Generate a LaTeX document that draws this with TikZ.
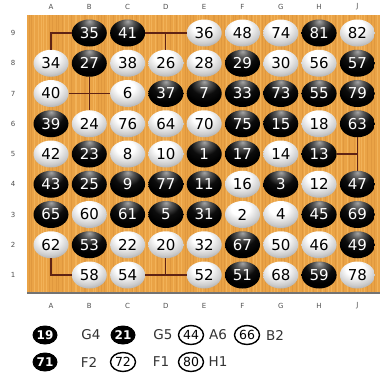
\documentclass[tikz,border=0pt]{standalone}
\usepackage{fontspec}
\setmainfont{DejaVu Sans}
\usetikzlibrary{shapes.geometric}
\definecolor{wood}{RGB}{234,163,70}
\definecolor{woodlt}{RGB}{242,178,88}
\definecolor{wooddk}{RGB}{224,152,62}
\definecolor{gline}{RGB}{95,35,20}
\definecolor{lbl}{RGB}{80,80,80}
\pgfdeclareradialshading{blackstone}{\pgfpoint{0bp}{22bp}}{%
  color(0bp)=(black!35); color(8bp)=(black!65); color(19bp)=(black!95);
  color(30bp)=(black); color(80bp)=(black)}
\pgfdeclareradialshading{whitestone}{\pgfpoint{-4bp}{14bp}}{%
  color(0bp)=(white); color(13bp)=(white); color(28bp)=(black!20);
  color(40bp)=(black!42); color(80bp)=(black!58)}
\tikzset{
  stonebase/.style={ellipse,inner sep=0pt,minimum width=35pt,minimum height=27pt,
     font=\fontsize{15}{15}\selectfont},
  stoneb/.style={stonebase,shading=blackstone,text=white},
  stonew/.style={stonebase,shading=whitestone,text=black},
  gridline/.style={draw=gline,line width=1.1pt},
  coordlbl/.style={font=\fontsize{7}{7}\selectfont,text=lbl},
  legb/.style={ellipse,inner sep=0pt,minimum width=25pt,minimum height=19pt,fill=black,text=white,
     font=\bfseries\fontsize{12}{12}\selectfont},
  legw/.style={ellipse,inner sep=0pt,minimum width=25pt,minimum height=19pt,fill=white,draw=black,line width=1.4pt,text=black,
     font=\fontsize{12.5}{12.5}\selectfont},
  legtxt/.style={font=\fontsize{13.5}{13.5}\selectfont,text=black!80},
}
\begin{document}
\begin{tikzpicture}[x=1pt,y=-1pt]
\useasboundingbox (0,0) rectangle (380,378);
\fill[white] (0,0) rectangle (380,378);
% board
\fill[wood] (27,15) rectangle (380,293);
\pgfmathsetseed{7}
\foreach \i in {0,...,116}{
  \pgfmathsetmacro{\xx}{28+3*\i+rnd*2}
  \pgfmathsetmacro{\sh}{rnd}
  \ifdim\sh pt>0.5pt
    \draw[woodlt,line width=0.7pt] (\xx,15) -- (\xx,293);
  \else
    \draw[wooddk,line width=0.5pt] (\xx,15) -- (\xx,293);
  \fi
}
\draw[black!55,line width=1.2pt] (27,293) -- (380,293);
% column and row labels
\foreach \L [count=\i] in {A,B,C,D,E,F,G,H,J}{
  \node[coordlbl] (ct-\L) at ({51+38.3*(\i-1)},7) {\L};
  \node[coordlbl] (cb-\L) at ({51+38.3*(\i-1)},306) {\L};
}
\foreach \r in {1,...,9}{
  \node[coordlbl] (rl-\r) at (13,{33+30.25*(9-\r)}) {\r};
}
% empty points
\foreach \L/\i/\r in {A/1/9,D/4/9,B/2/7,J/9/5,A/1/1,D/4/1}{
  \coordinate (p-\L\r) at ({51+38.3*(\i-1)},{33+30.25*(9-\r)});
}
% stones
\foreach \L/\i/\r/\n/\k in {
 B/2/9/35/b,C/3/9/41/b,E/5/9/36/w,F/6/9/48/w,G/7/9/74/w,H/8/9/81/b,J/9/9/82/w,
 A/1/8/34/w,B/2/8/27/b,C/3/8/38/w,D/4/8/26/w,E/5/8/28/w,F/6/8/29/b,G/7/8/30/w,H/8/8/56/w,J/9/8/57/b,
 A/1/7/40/w,C/3/7/6/w,D/4/7/37/b,E/5/7/7/b,F/6/7/33/b,G/7/7/73/b,H/8/7/55/b,J/9/7/79/b,
 A/1/6/39/b,B/2/6/24/w,C/3/6/76/w,D/4/6/64/w,E/5/6/70/w,F/6/6/75/b,G/7/6/15/b,H/8/6/18/w,J/9/6/63/b,
 A/1/5/42/w,B/2/5/23/b,C/3/5/8/w,D/4/5/10/w,E/5/5/1/b,F/6/5/17/b,G/7/5/14/w,H/8/5/13/b,
 A/1/4/43/b,B/2/4/25/b,C/3/4/9/b,D/4/4/77/b,E/5/4/11/b,F/6/4/16/w,G/7/4/3/b,H/8/4/12/w,J/9/4/47/b,
 A/1/3/65/b,B/2/3/60/w,C/3/3/61/b,D/4/3/5/b,E/5/3/31/b,F/6/3/2/w,G/7/3/4/w,H/8/3/45/b,J/9/3/69/b,
 A/1/2/62/w,B/2/2/53/b,C/3/2/22/w,D/4/2/20/w,E/5/2/32/w,F/6/2/67/b,G/7/2/50/w,H/8/2/46/w,J/9/2/49/b,
 B/2/1/58/w,C/3/1/54/w,E/5/1/52/w,F/6/1/51/b,G/7/1/68/w,H/8/1/59/b,J/9/1/78/w}{
  \node[stone\k] (s-\L\r) at ({51+38.3*(\i-1)},{33+30.25*(9-\r)}) {\n};
}
% visible grid segments
\draw[gridline] (s-B9.west) -- (p-A9) -- (s-A8.north);
\draw[gridline] (s-C9.east) -- (s-E9.west);
\draw[gridline] (p-D9) -- (s-D8.north);
\draw[gridline] (s-B8.south) -- (s-B6.north);
\draw[gridline] (s-A7.east) -- (s-C7.west);
\draw[gridline] (s-H5.east) -- (p-J5);
\draw[gridline] (s-J6.south) -- (s-J4.north);
\draw[gridline] (s-A2.south) -- (p-A1) -- (s-B1.west);
\draw[gridline] (s-C1.east) -- (s-E1.west);
\draw[gridline] (p-D1) -- (s-D2.south);
% legend
\node[legb] (l19) at (45,335) {19};
\node[legtxt] (t19) at (91,335) {G4};
\node[legb] (l21) at (123,335) {21};
\node[legtxt] (t21) at (163,335) {G5};
\node[legw] (l44) at (191,335) {44};
\node[legtxt] (t44) at (218,335) {A6};
\node[legw] (l66) at (247,335) {66};
\node[legtxt] (t66) at (275,335) {B2};
\node[legb] (l71) at (45,362) {71};
\node[legtxt] (t71) at (89,362) {F2};
\node[legw] (l72) at (123,362) {72};
\node[legtxt] (t72) at (161,362) {F1};
\node[legw] (l80) at (191,362) {80};
\node[legtxt] (t80) at (218,362) {H1};
\end{tikzpicture}
\end{document}
